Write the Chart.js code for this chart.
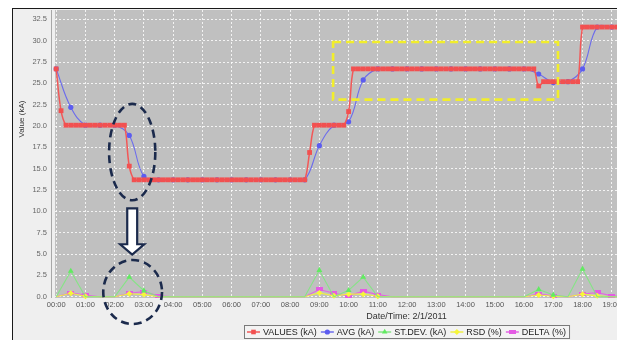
<!DOCTYPE html>
<html>
<head>
<meta charset="utf-8">
<script src="https://cdn.jsdelivr.net/npm/chart.js@4/dist/chart.umd.min.js"></script>
<style>
  html, body { margin: 0; padding: 0; background: #ffffff; width: 617px; height: 340px; overflow: hidden; }
  #frame {
    position: absolute; left: 12px; top: 8px; width: 720px; height: 340px;
    border-left: 1px solid #1a1a1a; border-top: 1px solid #1a1a1a;
    background: #efefef; overflow: hidden;
  }
  #chart { position: absolute; left: 0; top: -3px; }
</style>
</head>
<body>
<div id="frame"><canvas id="chart" width="760" height="334"></canvas></div>
<script>
// Hour labels of the time axis (2/1/2011)
const hourLabels = ['00:00','01:00','02:00','03:00','04:00','05:00','06:00','07:00',
  '08:00','09:00','10:00','11:00','12:00','13:00','14:00','15:00','16:00','17:00',
  '18:00','19:00','20:00','21:00','22:00','23:00'];
const valueTicks = [0, 2.5, 5, 7.5, 10, 12.5, 15, 17.5, 20, 22.5, 25, 27.5, 30, 32.5];

// Measured current, one reading every 10 minutes from 00:00 (kA)
const valuesStepHours = 1 / 6;
const valuesKA = [
  26.7, 21.8, 20.1, 20.1, 20.1, 20.1,   // 00h
  20.1, 20.1, 20.1, 20.1, 20.1, 20.1,   // 01h
  20.1, 20.1, 20.1, 15.3, 13.7, 13.7,   // 02h
  13.7, 13.7, 13.7, 13.7, 13.7, 13.7,   // 03h
  13.7, 13.7, 13.7, 13.7, 13.7, 13.7,   // 04h
  13.7, 13.7, 13.7, 13.7, 13.7, 13.7,   // 05h
  13.7, 13.7, 13.7, 13.7, 13.7, 13.7,   // 06h
  13.7, 13.7, 13.7, 13.7, 13.7, 13.7,   // 07h
  13.7, 13.7, 13.7, 13.7, 16.9, 20.1,   // 08h
  20.1, 20.1, 20.1, 20.1, 20.1, 20.1,   // 09h
  21.7, 26.7, 26.7, 26.7, 26.7, 26.7,   // 10h
  26.7, 26.7, 26.7, 26.7, 26.7, 26.7,   // 11h
  26.7, 26.7, 26.7, 26.7, 26.7, 26.7,   // 12h
  26.7, 26.7, 26.7, 26.7, 26.7, 26.7,   // 13h
  26.7, 26.7, 26.7, 26.7, 26.7, 26.7,   // 14h
  26.7, 26.7, 26.7, 26.7, 26.7, 26.7,   // 15h
  26.7, 26.7, 26.7, 24.7, 25.2, 25.2,   // 16h
  25.2, 25.2, 25.2, 25.2, 25.2, 25.2,   // 17h
  31.6, 31.6, 31.6, 31.6, 31.6, 31.6,   // 18h
  31.6, 31.6                            // 19h
];

// Statistics, one value every 30 minutes from 00:00
const statsStepHours = 0.5;
const avgKA = [
  26.7, 22.2, 20.1, 20.1, 20.1, 18.9, 14.1, 13.7,
  13.7, 13.7, 13.7, 13.7, 13.7, 13.7, 13.7, 13.7,
  13.7, 13.7, 17.7, 20.1, 20.5, 25.4, 26.7, 26.7,
  26.7, 26.7, 26.7, 26.7, 26.7, 26.7, 26.7, 26.7,
  26.7, 26.1, 25.1, 25.2, 26.7, 31.6, 31.6, 31.6
];
const stdDevKA = [
  0, 3.0, 0, 0, 0, 2.3, 0.7, 0,
  0, 0, 0, 0, 0, 0, 0, 0,
  0, 0, 3.1, 0, 0.75, 2.3, 0, 0,
  0, 0, 0, 0, 0, 0, 0, 0,
  0, 0.85, 0.2, 0, 3.25, 0, 0, 0
];
const rsdPct = [
  0, 0.4, 0.05, 0, 0, 0.35, 0.25, 0,
  0, 0, 0, 0, 0, 0, 0, 0,
  0, 0, 0.45, 0.1, 0.3, 0.3, 0.05, 0,
  0, 0, 0, 0, 0, 0, 0, 0,
  0, 0.2, 0.05, 0, 0.3, 0.1, 0, 0
];
const deltaPct = [
  0, 0.45, 0.2, 0, 0, 0.4, 0.6, 0.1,
  0, 0, 0, 0, 0, 0, 0, 0,
  0, 0, 0.85, 0.4, 0.1, 0.65, 0.25, 0,
  0, 0, 0, 0, 0, 0, 0, 0,
  0, 0.3, 0.1, 0, 0.3, 0.5, 0.1, 0
];

// Highlights, in axis units (hours, kA)
const highlightEllipses = [
  { x0: 1.81, x1: 3.39, y0: 11.3, y1: 22.6 },
  { x0: 1.61, x1: 3.62, y0: -3.2, y1: 4.3 }
];
const downArrow = { x: 2.6, yTop: 10.35, yHead: 6.15, yTip: 4.95, shaftHalf: 0.17, headHalf: 0.41 };
const highlightBox = { x0: 9.47, x1: 17.16, y0: 23.1, y1: 29.85 };

const FONT = '"Liberation Sans", Arial, sans-serif';

const toPoints = (arr, step) => arr.map((v, i) => ({ x: i * step, y: v }));
const onlyNonZero = r => c => (c.raw && c.raw.y > 0 ? r : 0);
const noEdgePadding = s => { s.paddingTop = 0; s.paddingBottom = 0; s.paddingLeft = 0; s.paddingRight = 0; };

// Small horizontal bar used as the DELTA marker
const barMarker = document.createElement('canvas');
barMarker.width = 7; barMarker.height = 4;
(() => { const g = barMarker.getContext('2d'); g.fillStyle = '#e45be4'; g.fillRect(0, 0, 7, 4); })();

function drawMarker(ctx, style, x, y, r, color) {
  if (style instanceof HTMLCanvasElement) {
    ctx.drawImage(style, x - style.width / 2, y - style.height / 2);
    return;
  }
  ctx.fillStyle = color;
  ctx.beginPath();
  if (style === 'rect') ctx.rect(x - r * 0.72, y - r * 0.72, r * 1.44, r * 1.44);
  else if (style === 'triangle') { ctx.moveTo(x, y - r); ctx.lineTo(x + r * 0.87, y + r * 0.5); ctx.lineTo(x - r * 0.87, y + r * 0.5); ctx.closePath(); }
  else if (style === 'rectRot') { ctx.moveTo(x, y - r); ctx.lineTo(x + r, y); ctx.lineTo(x, y + r); ctx.lineTo(x - r, y); ctx.closePath(); }
  else ctx.arc(x, y, r, 0, Math.PI * 2);
  ctx.fill();
}

const plotBackground = {
  id: 'plotBackground',
  beforeDraw(chart) {
    const { ctx, chartArea: a } = chart;
    ctx.save();
    ctx.fillStyle = '#efefef';
    ctx.fillRect(0, 0, chart.width, chart.height);
    ctx.fillStyle = '#c0c0c0';
    ctx.fillRect(a.left, a.top, a.right - a.left, a.bottom - a.top);
    // value axis line
    ctx.strokeStyle = '#a8a8a8';
    ctx.lineWidth = 1;
    ctx.beginPath();
    ctx.moveTo(a.left - 3.5, a.top);
    ctx.lineTo(a.left - 3.5, a.bottom);
    ctx.stroke();
    ctx.restore();
  }
};

const axisTitleAndLegend = {
  id: 'axisTitleAndLegend',
  afterDraw(chart) {
    const { ctx, chartArea: a } = chart;
    ctx.save();
    // value axis title
    ctx.font = '8px ' + FONT;
    ctx.fillStyle = '#333';
    ctx.textAlign = 'center';
    ctx.textBaseline = 'middle';
    ctx.translate(9, a.top + 109);
    ctx.rotate(-Math.PI / 2);
    ctx.fillText('Value (kA)', 0, 0);
    ctx.restore();

    // series legend
    ctx.save();
    ctx.font = '9px ' + FONT;
    const sets = chart.data.datasets;
    const widths = sets.map(ds => ctx.measureText(ds.label).width);
    const lineLen = 13, textGap = 3, itemGap = 4, pad = 3, h = 13;
    const total = pad * 2 + widths.reduce((s, w) => s + lineLen + textGap + w, 0) + itemGap * (sets.length - 1);
    const top = chart.height - 15;
    let x = Math.round((a.left + a.right) / 2 - total / 2);
    ctx.fillStyle = '#f3f3f3';
    ctx.fillRect(x, top, total, h);
    ctx.strokeStyle = '#7a7a7a';
    ctx.lineWidth = 1;
    ctx.strokeRect(x + 0.5, top + 0.5, total, h);
    const yMid = top + h / 2 + 0.5;
    x += pad;
    sets.forEach((ds, i) => {
      ctx.strokeStyle = ds.borderColor;
      ctx.lineWidth = 1.5;
      ctx.beginPath();
      ctx.moveTo(x, yMid);
      ctx.lineTo(x + lineLen, yMid);
      ctx.stroke();
      drawMarker(ctx, ds.pointStyle, x + lineLen / 2, yMid, ds.legendRadius, ds.pointBackgroundColor);
      ctx.fillStyle = '#222';
      ctx.textAlign = 'left';
      ctx.textBaseline = 'middle';
      ctx.fillText(ds.label, x + lineLen + textGap, yMid + 0.5);
      x += lineLen + textGap + widths[i] + itemGap;
    });
    ctx.restore();
  }
};

const highlights = {
  id: 'highlights',
  afterDraw(chart) {
    const { ctx } = chart;
    const xs = chart.scales.x, ys = chart.scales.y;
    const px = v => xs.getPixelForValue(v), py = v => ys.getPixelForValue(v);
    ctx.save();
    ctx.lineWidth = 2.6;
    ctx.setLineDash([8, 5]);
    ctx.strokeStyle = '#1b2a4c';
    highlightEllipses.forEach(e => {
      const cx = (px(e.x0) + px(e.x1)) / 2, cy = (py(e.y0) + py(e.y1)) / 2;
      const rx = Math.abs(px(e.x1) - px(e.x0)) / 2, ry = Math.abs(py(e.y1) - py(e.y0)) / 2;
      ctx.beginPath();
      ctx.ellipse(cx, cy, rx, ry, 0, 0, Math.PI * 2);
      ctx.stroke();
    });
    ctx.strokeStyle = '#f2ee2a';
    const b = highlightBox;
    ctx.strokeRect(px(b.x0), py(b.y1), px(b.x1) - px(b.x0), py(b.y0) - py(b.y1));

    // arrow pointing from the step change down to the statistics
    const d = downArrow;
    ctx.setLineDash([]);
    ctx.lineWidth = 2.2;
    ctx.strokeStyle = '#1b2a4c';
    ctx.fillStyle = '#ffffff';
    ctx.beginPath();
    ctx.moveTo(px(d.x - d.shaftHalf), py(d.yTop));
    ctx.lineTo(px(d.x + d.shaftHalf), py(d.yTop));
    ctx.lineTo(px(d.x + d.shaftHalf), py(d.yHead));
    ctx.lineTo(px(d.x + d.headHalf), py(d.yHead));
    ctx.lineTo(px(d.x), py(d.yTip));
    ctx.lineTo(px(d.x - d.headHalf), py(d.yHead));
    ctx.lineTo(px(d.x - d.shaftHalf), py(d.yHead));
    ctx.closePath();
    ctx.fill();
    ctx.stroke();
    ctx.restore();
  }
};

const gridStyle = { color: 'rgba(255,255,255,0.8)', lineWidth: 1, drawTicks: false };

new Chart(document.getElementById('chart'), {
  type: 'line',
  data: {
    datasets: [
      {
        label: 'VALUES (kA)', data: toPoints(valuesKA, valuesStepHours),
        borderColor: '#f25858', borderWidth: 1.5, tension: 0.4,
        pointStyle: 'rect', pointRadius: 3.4, pointBackgroundColor: '#f25050', pointBorderWidth: 0,
        legendRadius: 3.2, clip: false
      },
      {
        label: 'AVG (kA)', data: toPoints(avgKA, statsStepHours),
        borderColor: '#6c6cec', borderWidth: 1.1, tension: 0.4,
        pointStyle: 'circle', pointRadius: 2.6, pointBackgroundColor: '#5c5cf0', pointBorderWidth: 0,
        legendRadius: 2.6, clip: false
      },
      {
        label: 'ST.DEV. (kA)', data: toPoints(stdDevKA, statsStepHours),
        borderColor: '#86e486', borderWidth: 1.1, tension: 0,
        pointStyle: 'triangle', pointRadius: onlyNonZero(3.4), pointBackgroundColor: '#62ea62', pointBorderWidth: 0,
        legendRadius: 3.2, clip: false
      },
      {
        label: 'RSD (%)', data: toPoints(rsdPct, statsStepHours),
        borderColor: '#eeee48', borderWidth: 1.1, tension: 0,
        pointStyle: 'rectRot', pointRadius: onlyNonZero(3), pointBackgroundColor: '#f6f63a', pointBorderWidth: 0,
        legendRadius: 3, clip: false
      },
      {
        label: 'DELTA (%)', data: toPoints(deltaPct, statsStepHours),
        borderColor: '#e266e2', borderWidth: 1.1, tension: 0,
        pointStyle: barMarker, pointRadius: onlyNonZero(2.5), pointBackgroundColor: '#e45be4', pointBorderWidth: 0,
        legendRadius: 2.5, clip: false
      }
    ]
  },
  options: {
    responsive: false,
    animation: false,
    devicePixelRatio: 1,
    layout: { padding: { left: 0, top: 0, right: 15, bottom: 18 } },
    plugins: { legend: { display: false }, tooltip: { enabled: false } },
    scales: {
      x: {
        type: 'linear', min: -0.04, max: 24,
        afterBuildTicks: s => { s.ticks = hourLabels.map((_, h) => ({ value: h })); },
        afterFit: s => { s.height = 24; noEdgePadding(s); },
        ticks: {
          autoSkip: false, maxRotation: 0, padding: 2, color: '#555',
          font: { size: 7.5, family: FONT },
          callback: v => hourLabels[Math.round(v)] ?? ''
        },
        grid: gridStyle,
        border: { display: false, dash: [2, 2] },
        title: {
          display: true, text: 'Date/Time: 2/1/2011', color: '#333',
          font: { size: 9, family: FONT }, padding: { top: 0, bottom: 0 }
        }
      },
      y: {
        min: -0.15, max: 33.6,
        afterBuildTicks: s => { s.ticks = valueTicks.map(v => ({ value: v })); },
        afterFit: s => { s.width = 42; noEdgePadding(s); },
        ticks: {
          padding: 8, color: '#666', font: { size: 7.5, family: FONT },
          callback: v => Number(v).toFixed(1)
        },
        grid: gridStyle,
        border: { display: false, dash: [2, 2] }
      }
    }
  },
  plugins: [plotBackground, axisTitleAndLegend, highlights]
});
</script>
</body>
</html>
